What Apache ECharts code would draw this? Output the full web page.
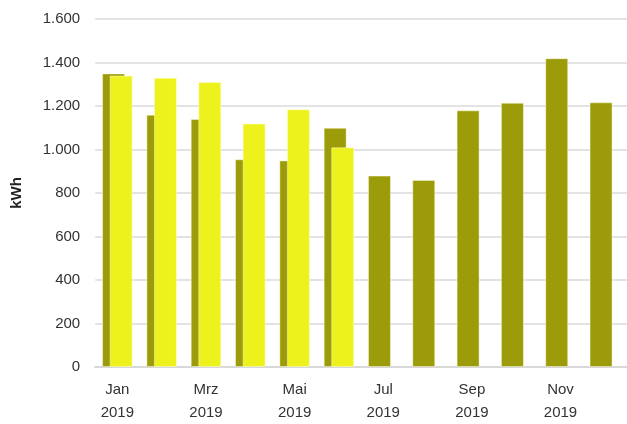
<!DOCTYPE html>
<html>
<head>
<meta charset="utf-8">
<script src="https://cdn.jsdelivr.net/npm/echarts@6/dist/echarts.min.js"></script>
<style>html,body{margin:0;padding:0;background:#fff}#c{width:627px;height:424px}</style>
</head>
<body>
<div id="c"></div>
<script>
const months = ['Jan','Feb','Mrz','Apr','Mai','Jun','Jul','Aug','Sep','Okt','Nov','Dez'];
const year = '2019';
const series2019 = [1350, 1160, 1140, 955, 950, 1100, 880, 860, 1180, 1215, 1420, 1217];
const series2020 = [1340, 1330, 1310, 1120, 1185, 1010, null, null, null, null, null, null];
const yTicks = [0, 200, 400, 600, 800, 1000, 1200, 1400, 1600];

function fmt(v){ return String(v).replace(/\B(?=(\d{3})+(?!\d))/g, '.'); }

const font = 'Liberation Sans, Arial, sans-serif';
const chart = echarts.init(document.getElementById('c'), null, {renderer:'canvas'});
chart.setOption({
  animation: false,
  grid: {left: 95.2, right: -3, top: 19, bottom: 56, containLabel: false},
  xAxis: {
    type: 'category',
    data: months,
    boundaryGap: true,
    axisLine: {lineStyle: {color: '#d8d8d8', width: 2}},
    axisTick: {alignWithLabel: true, interval: 1, length: 6, lineStyle: {color: '#d8d8d8', width: 1}},
    axisLabel: {
      interval: 1, color: '#333', fontFamily: font, fontSize: 15,
      lineHeight: 23, margin: 11,
      formatter: v => v + '\n' + year
    }
  },
  yAxis: {
    type: 'value',
    min: yTicks[0], max: yTicks[yTicks.length-1], interval: 200,
    name: 'kWh', nameLocation: 'middle', nameGap: 71, nameRotate: 90,
    nameTextStyle: {fontWeight: 'bold', fontSize: 15, color: '#222', fontFamily: font},
    axisLine: {show: false}, axisTick: {show: false},
    splitLine: {lineStyle: {color: '#e3e3e3', width: 2}},
    axisLabel: {color: '#333', fontSize: 15, margin: 15, fontFamily: font, formatter: v => fmt(v)}
  },
  series: [
    {type: 'bar', name: '2019', data: series2019, barWidth: 23, barGap: '-67%',
     itemStyle: {color: '#9c9c0a', borderColor: 'rgba(255,255,230,0.45)', borderWidth: 1}},
    {type: 'bar', name: '2020', data: series2020, barWidth: 23, barGap: '-67%',
     itemStyle: {color: '#eef21c', borderColor: 'rgba(255,255,230,0.45)', borderWidth: 1}}
  ]
});
</script>
</body>
</html>
